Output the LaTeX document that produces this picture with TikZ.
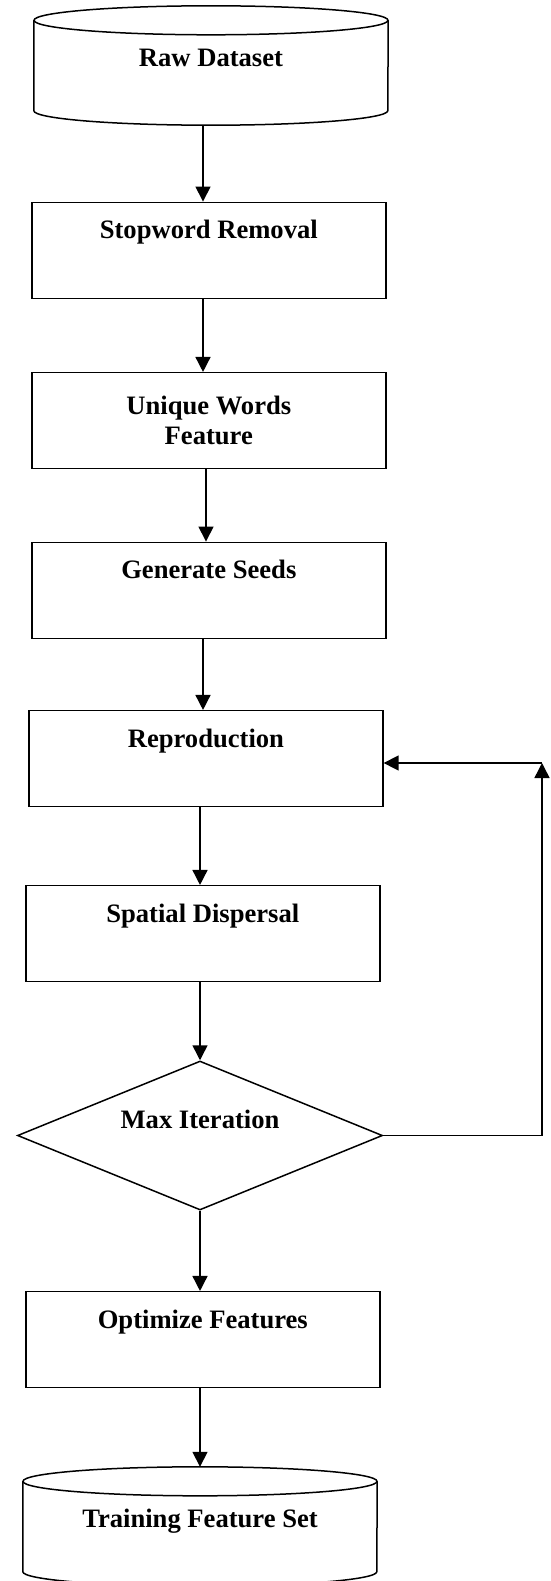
\documentclass[tikz,border=0pt]{standalone}
\usepackage{fontspec}
\setmainfont{Liberation Serif}
\usepackage{tikz}
\usetikzlibrary{shapes,arrows,positioning,calc,arrows.meta}

\tikzset{
    every node/.style={font=\bfseries\fontsize{26.6}{30}\selectfont},
    procbox/.style={draw, line width=1.5pt, rectangle, minimum width=354pt, minimum height=96pt, inner sep=0pt, align=center},
    uptext/.style={text height=36.5pt, text depth=59.5pt},
    datastore/.style={rectangle, minimum width=354pt, inner sep=0pt},
    dbline/.style={line width=1.5pt},
    decide/.style={draw, line width=1.5pt, diamond, aspect=2.45, minimum width=365pt, minimum height=149pt, inner sep=0pt, text height=18pt, text depth=32pt},
    flow/.style={line width=1.5pt, -{Triangle[length=15pt,width=15pt]}}
}

\begin{document}
\begin{tikzpicture}[x=1pt, y=-1pt]
    \useasboundingbox (0,0) rectangle (550,1581);

    % Steps
    \node[datastore, text height=61pt, text depth=58pt] (raw) at (211,65.5) {Raw Dataset};
    \node[procbox, uptext] (stop) at (208.8,250.3) {Stopword Removal};
    \node[procbox, yshift=3pt] (uniq) at (208.8,423.7) {Unique Words\\Feature};
    \node[procbox, uptext] (gen) at (208.8,590.3) {Generate Seeds};
    \node[procbox, uptext] (repro) at (205.9,758.7) {Reproduction};
    \node[procbox, uptext] (spat) at (202.8,933.7) {Spatial Dispersal};
    \node[decide] (maxit) at (200,1135.5) {Max Iteration};
    \node[procbox, uptext] (opt) at (202.8,1339.7) {Optimize Features};
    \node[datastore, text height=60pt, text depth=59pt] (train) at (200,1526.5) {Training Feature Set};

    % Cylinders
    \foreach \db in {raw,train}{
        \draw[dbline] ([yshift=-14.5pt]\db.north) ellipse [x radius=177pt, y radius=14.5pt];
        \draw[dbline] ([yshift=-14.5pt]\db.north west) -- ([yshift=14.5pt]\db.south west)
            arc[start angle=180, end angle=360, x radius=177pt, y radius=14.5pt]
            -- ([yshift=-14.5pt]\db.north east);
    }

    % Flow
    \coordinate (upcol) at (203,0);
    \coordinate (lowcol) at (200,0);
    \draw[flow] (raw.south -| upcol) -- (stop.north -| upcol);
    \draw[flow] (stop.south -| upcol) -- (uniq.north -| upcol);
    \draw[flow] ([xshift=3pt]uniq.south -| upcol) -- ([xshift=3pt]gen.north -| upcol);
    \draw[flow] (gen.south -| upcol) -- (repro.north -| upcol);
    \draw[flow] (repro.south -| lowcol) -- (spat.north -| lowcol);
    \draw[flow] (spat.south -| lowcol) -- (maxit.north);
    \draw[flow] (maxit.south) -- (opt.north -| lowcol);
    \draw[flow] (opt.south -| lowcol) -- (train.north);

    % Loop back
    \coordinate (bend) at (542,763);
    \draw[flow] (maxit.east) -| (bend);
    \draw[flow] (bend) -- (bend -| repro.east);
\end{tikzpicture}
\end{document}
